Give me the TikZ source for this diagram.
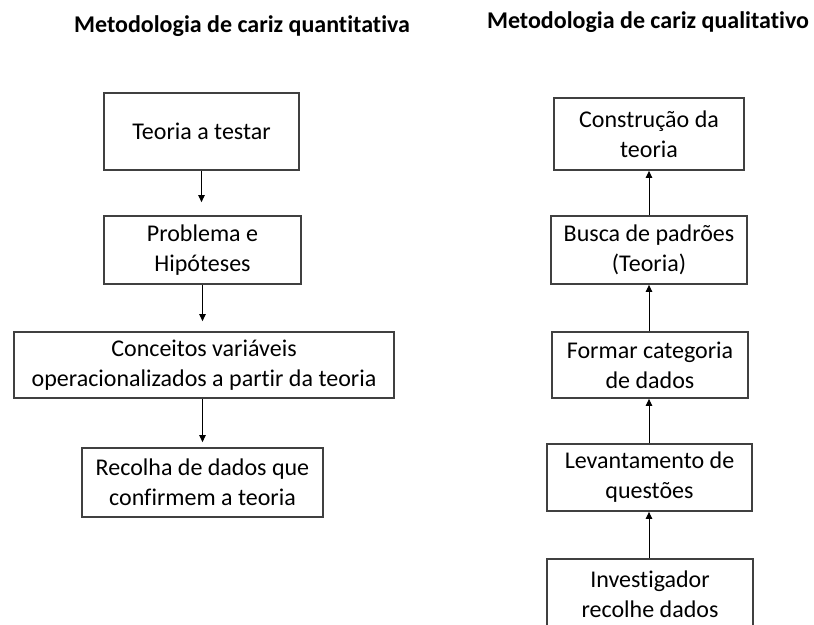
\documentclass[tikz,border=0pt]{standalone}
\usepackage{fontspec}
\setmainfont[Ligatures={TeX,NoCommon}]{Carlito}
\usetikzlibrary{arrows.meta}
\definecolor{boxgray}{HTML}{404040}
\begin{document}
\begin{tikzpicture}[x=1pt,y=-1pt,
  box/.style={draw=boxgray, line width=1.8pt, rectangle, inner sep=0pt, align=center,
    font=\fontsize{24}{30}\selectfont},
  arr/.style={line width=1pt, -{Triangle[length=7pt,width=6.5pt]}},
  ttl/.style={font=\fontsize{24}{29}\selectfont\bfseries, anchor=base, inner sep=0pt}]
\clip (0,0) rectangle (814,624);
\useasboundingbox (0,0) rectangle (814,624);
% titles
\node[ttl] (tq) at (242,32) {Metodologia de cariz quantitativa};
\node[ttl] (tl) at (648,28) {Metodologia de cariz qualitativo};
% left column
\node[box, minimum width=195pt, minimum height=77pt] (q1) at (201.5,131.5) {Teoria a testar};
\node[box, minimum width=197pt, minimum height=68pt] (q2) at (202.5,250) {Problema e\\Hipóteses};
\node[box, minimum width=380pt, minimum height=66pt] (q3) at (204,365) {Conceitos variáveis\\operacionalizados a partir da teoria};
\node[box, minimum width=241pt, minimum height=69pt] (q4) at (202.5,482.5) {Recolha de dados que\\confirmem a teoria};
\draw[arr, shorten >=13pt] (q1.south) -- (q1.south |- q2.north);
\draw[arr, shorten >=10pt] (q2.south) -- (q2.south |- q3.north);
\draw[arr, shorten >=5pt] (q3.south -| q2.south) -- (q2.south |- q4.north);
% right column
\node[box, minimum width=190pt, minimum height=72pt] (r1) at (649,134) {Construção da\\teoria};
\node[box, minimum width=196pt, minimum height=68pt] (r2) at (649,250) {Busca de padrões\\(Teoria)};
\node[box, minimum width=196pt, minimum height=66pt] (r3) at (650,365) {Formar categoria\\de dados};
\node[box, minimum width=205pt, minimum height=67pt] (r4) at (649.5,477.5) {Levantamento de\\questões};
\node[box, minimum width=206pt, minimum height=70pt] (r5) at (650,594) {Investigador\\recolhe dados};
\draw[arr] (r2.north -| r1.south) -- (r1.south);
\draw[arr] (r3.north -| r1.south) -- (r1.south |- r2.south);
\draw[arr] (r4.north -| r1.south) -- (r1.south |- r3.south);
\draw[arr] (r5.north -| r1.south) -- (r1.south |- r4.south);
\end{tikzpicture}
\end{document}
